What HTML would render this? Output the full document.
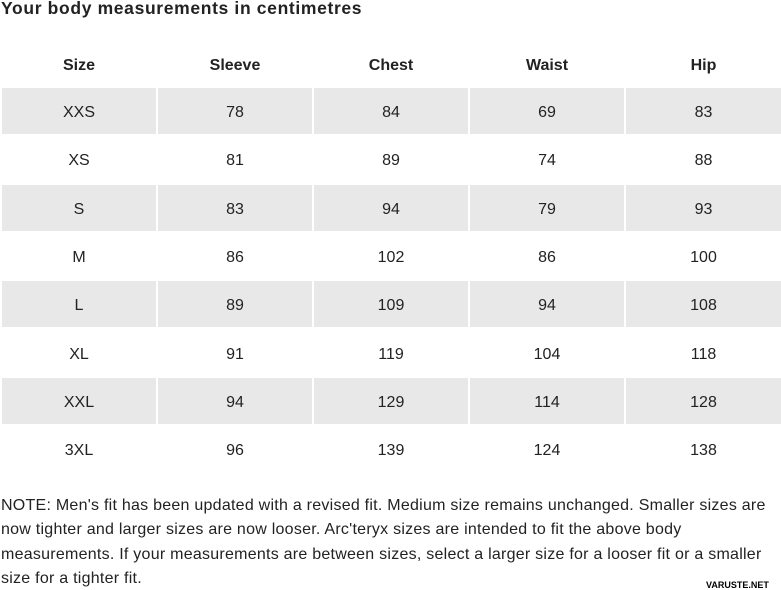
<!DOCTYPE html>
<html><head><meta charset="utf-8"><style>
body{margin:0;width:781px;height:589px;background:#fff;position:relative;overflow:hidden;font-family:"Liberation Sans",sans-serif;color:#222}
.t{position:absolute;left:1px;top:-2px;font-size:17.5px;font-weight:bold;white-space:nowrap;letter-spacing:0.65px}
.c{position:absolute;width:154px;height:46px;line-height:50px;text-align:center;font-size:16px}
.g{background:#e8e8e8}
.h{font-weight:bold}
.n{position:absolute;left:1px;font-size:16px;white-space:nowrap;letter-spacing:0.25px}
.w{position:absolute;left:706px;top:580px;font-size:9px;font-weight:bold;color:#000}
</style></head><body>
<div class="t">Your body measurements in centimetres</div>
<div id="tb"></div>
<div class="n" style="top:497px">NOTE: Men's fit has been updated with a revised fit. Medium size remains unchanged. Smaller sizes are</div>
<div class="n" style="top:521px">now tighter and larger sizes are now looser. Arc'teryx sizes are intended to fit the above body</div>
<div class="n" style="top:546px">measurements. If your measurements are between sizes, select a larger size for a looser fit or a smaller</div>
<div class="n" style="top:570px">size for a tighter fit.</div>
<div class="w">VARUSTE.NET</div>
<script>
var d=[["Size","Sleeve","Chest","Waist","Hip"],["XXS",78,84,69,83],["XS",81,89,74,88],["S",83,94,79,93],["M",86,102,86,100],["L",89,109,94,108],["XL",91,119,104,118],["XXL",94,129,114,128],["3XL",96,139,124,138]];
var xs=[2,158,314,470,626],h="";
d.forEach(function(r,i){var top=i==0?41:88+(i-1)*48.3;r.forEach(function(v,j){var cls="c"+(i==0?" h":"")+(i>0&&i%2==1?" g":"");h+='<div class="'+cls+'" style="left:'+xs[j]+'px;top:'+top+'px;'+(j==4?'width:155px':'')+'">'+v+'</div>';});});
document.getElementById("tb").innerHTML=h;
</script>
</body></html>
